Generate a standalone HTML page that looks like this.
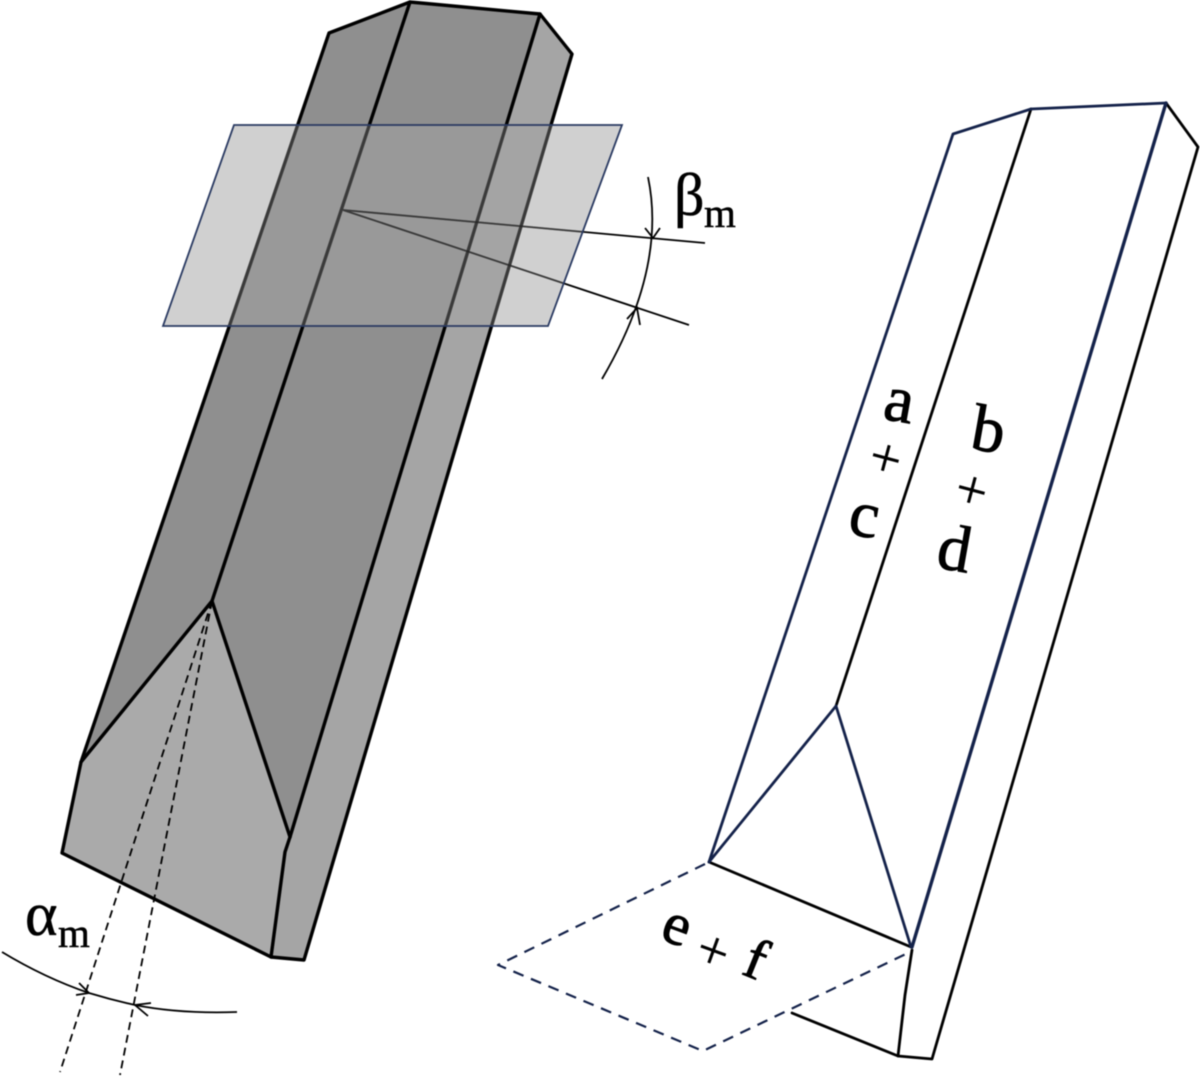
<!DOCTYPE html>
<html><head><meta charset="utf-8"><style>
html,body{margin:0;padding:0;background:#fff}
svg{display:block;filter:blur(.4px)}
text{font-family:"Liberation Serif",serif;fill:#000}
</style></head><body>
<svg width="1200" height="1076" viewBox="0 0 1200 1076" xmlns="http://www.w3.org/2000/svg">
<defs><clipPath id="pl"><polygon points="234,125 622,125 548,326 163,326"/></clipPath></defs>
<g stroke="none">
<polygon points="329,33 410,2 212,601 81,762" fill="#8f8f8f"/>
<polygon points="410,2 540,14 290,837 212,601" fill="#8f8f8f"/>
<polygon points="540,14 572,54 304,960 271,957 285,852 290,837" fill="#a5a5a5"/>
<polygon points="81,762 212,601 290,837 285,852 271,957 62,853" fill="#aaaaaa"/>
</g>
<g fill="none" stroke="#000" stroke-width="3.4" stroke-linejoin="round" stroke-linecap="round">
<path d="M81,762 L329,33 L410,2 L540,14 L572,54 L304,960 L271,957 L62,853 L81,762"/>
<path d="M410,2 L212,601 L81,762"/>
<path d="M540,14 L290,837 L285,852 L271,957"/>
<path d="M212,601 L290,837"/>
</g>
<g fill="none" stroke="#000" stroke-width="1.8">
<path d="M343,210 L705,243"/>
<path d="M343,210 L689,325"/>
</g>
<polygon points="234,125 622,125 548,326 163,326" fill="#a3a3a3" fill-opacity=".51"/>
<g clip-path="url(#pl)" fill="none" stroke="#000" stroke-opacity=".3">
<path d="M329,33 L81,762 M410,2 L212,601 M540,14 L290,837 M572,54 L304,960" stroke-width="3"/>
<path d="M343,210 L705,243 M343,210 L689,325" stroke-width="1.8"/>
</g>
<polygon points="234,125 622,125 548,326 163,326" fill="none" stroke="#2a3a62" stroke-width="1.8"/>
<g fill="none" stroke="#000" stroke-width="1.8" stroke-dasharray="8 5">
<path d="M212,601 L60,1072"/>
<path d="M212,601 L120,1075"/>
</g>
<g fill="none" stroke="#000" stroke-width="1.8">
<path d="M648,177 Q667,268 602,379"/>
<path d="M645,228 L653,238 L660,228"/>
<path d="M627,319 L637,308 L640,325"/>
<path d="M2,952 Q45,978 89,993 Q112,1000 135,1005 Q180,1014 237,1012"/>
<path d="M79,983 L89,993 L76,995"/>
<path d="M151,1003 L135,1005 L148,1016"/>
</g>
<g stroke="#000" stroke-width=".5">
<text x="25" y="935" font-size="62">α</text>
<text x="58" y="947" font-size="41">m</text>
<text x="674" y="215" font-size="60">β</text>
<text x="704" y="227" font-size="41">m</text>
</g>
<g fill="none" stroke-linejoin="round" stroke-linecap="round">
<g stroke="#000" stroke-width="2.8">
<path d="M1031,109 L836,706"/>
<path d="M709,862 L911,947"/>
<path d="M1166,103 L1198,147 L932,1059 L898,1056 L792,1013"/>
<path d="M912,950 L905,995 L898,1056"/>
</g>
<g stroke="#14224a" stroke-width="2.8">
<path d="M709,862 L953,134 L1031,109 L1166,103"/>
<path d="M709,862 L836,706 L911,947"/>
<path d="M1166,103 L912,947" stroke-width="3.4"/>
</g>
<path d="M705,864 L498,965 L703,1051 L908,953" stroke="#14224a" stroke-width="2.2" stroke-dasharray="11 8" stroke-linecap="butt"/>
</g>
<g font-size="66" text-anchor="middle" stroke="#000" stroke-width=".9">
<text transform="translate(896,421) rotate(10)">a</text>
<text transform="translate(881,476) rotate(15)" font-size="56" stroke-width=".3">+</text>
<text transform="translate(861,536) rotate(10)">c</text>
<text transform="translate(985,451) rotate(10)">b</text>
<text transform="translate(967,508) rotate(15)" font-size="56" stroke-width=".3">+</text>
<text transform="translate(951,570) rotate(10)">d</text>
<text transform="translate(671,943) rotate(20)" font-size="60">e</text>
<text transform="translate(707,968) rotate(20)" font-size="56" stroke-width=".3">+</text>
<text transform="translate(749,977) rotate(22)" font-size="58">f</text>
</g>
</svg>
</body></html>
